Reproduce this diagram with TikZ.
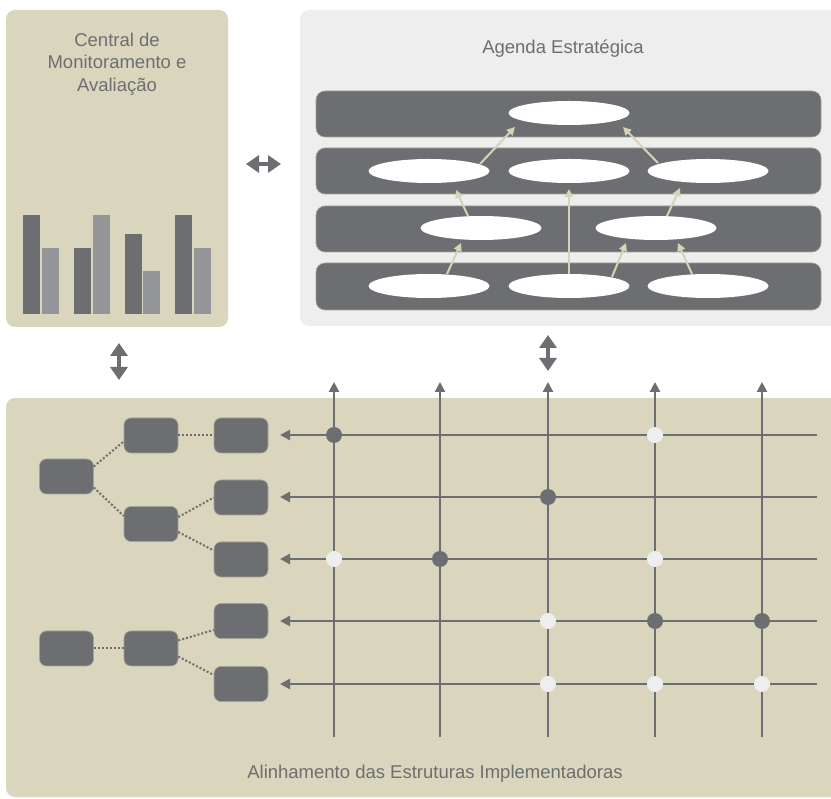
\documentclass[tikz,border=0pt]{standalone}
\usepackage{fontspec}
\setmainfont{Liberation Sans}
\usetikzlibrary{shapes.geometric,arrows.meta,calc}
\definecolor{beige}{HTML}{D9D6BD}
\definecolor{dgray}{HTML}{6D6E71}
\definecolor{lbar}{HTML}{939598}
\definecolor{pgray}{HTML}{EEEEEE}
\definecolor{arrbeige}{HTML}{D6D3B9}
\definecolor{edge}{HTML}{A3A295}
\begin{document}
\begin{tikzpicture}[x=1pt,y=-1pt,
  txt/.style={text=dgray,font=\fontsize{18.5}{22.5}\selectfont,align=center,inner sep=0},
  ell/.style={ellipse,fill=white,minimum width=121pt,minimum height=24pt,inner sep=0},
  rowbar/.style={fill=dgray,draw=edge,line width=0.6pt,rounded corners=9pt},
  uparr/.style={arrbeige,line width=2pt,-{Triangle[length=8pt,width=8pt]}},
  dbl/.style={dgray,line width=4pt,{Triangle[length=13pt,width=17pt]}-{Triangle[length=13pt,width=17pt]}},
  gridln/.style={dgray,line width=2.5pt,-{Triangle[length=10pt,width=10pt]}},
  tbox/.style={rectangle,rounded corners=7pt,fill=dgray,draw=edge,line width=0.6pt,minimum width=54pt,minimum height=35pt,inner sep=0},
  dotln/.style={dgray,line width=2pt,dash pattern=on 2pt off 2pt},
  dkdot/.style={circle,fill=dgray,minimum size=16pt,inner sep=0},
  ltdot/.style={circle,fill=pgray,minimum size=16pt,inner sep=0}
]
\useasboundingbox (0,0) rectangle (831,799);
\clip (0,0) rectangle (831,799);
\fill[white] (0,0) rectangle (831,799);

% panels
\fill[beige,rounded corners=9pt] (6,10) rectangle (228,327);
\fill[pgray,rounded corners=9pt] (300,10) rectangle (860,326);
\fill[beige,rounded corners=9pt] (6,398) rectangle (860,797);

% titles
\node[txt] (central) at (117,64) {Central de\\Monitoramento e\\Avaliação};
\node[txt] (agenda) at (563,48.5) {Agenda Estratégica};
\node[txt] (alin) at (435,774) {Alinhamento das Estruturas Implementadoras};

% bars
\fill[dgray] (23,215) rectangle (40,314);
\fill[lbar] (42,248) rectangle (59,314);
\fill[dgray] (74,248) rectangle (91,314);
\fill[lbar] (93,215) rectangle (110,314);
\fill[dgray] (125,234) rectangle (142,314);
\fill[lbar] (143,271) rectangle (160,314);
\fill[dgray] (175,215) rectangle (192,314);
\fill[lbar] (194,248) rectangle (211,314);

% agenda rows
\filldraw[rowbar] (316,91) rectangle (821,137);
\filldraw[rowbar] (316,148) rectangle (821,194);
\filldraw[rowbar] (316,206) rectangle (821,252);
\filldraw[rowbar] (316,263) rectangle (821,310);

\node[ell] (a1) at (569,113) {};
\node[ell] (b1) at (429,171) {};
\node[ell] (b2) at (569,171) {};
\node[ell] (b3) at (708,171) {};
\node[ell] (c1) at (481,228) {};
\node[ell] (c2) at (656,228) {};
\node[ell] (d1) at (429,286) {};
\node[ell] (d2) at (569,286) {};
\node[ell] (d3) at (708,286) {};

\draw[uparr] ($(b1)+(51,-7)$) -- ($(a1)+(-54,14)$);
\draw[uparr] ($(b3)+(-50,-8)$) -- ($(a1)+(54,14)$);
\draw[uparr] ($(c1)+(-13,-12)$) -- ($(b1)+(27,19)$);
\draw[uparr] (d2.north) -- ($(b2)+(0,18)$);
\draw[uparr] ($(c2)+(11,-12)$) -- ($(b3)+(-28,17)$);
\draw[uparr] ($(d1)+(18,-12)$) -- ($(c1)+(-20,15)$);
\draw[uparr] ($(d2)+(43,-9)$) -- ($(c2)+(-30,15)$);
\draw[uparr] ($(d3)+(-16,-12)$) -- ($(c2)+(22,15)$);

% double arrows
\coordinate (h1) at (246,164); \coordinate (h2) at (281,164);
\coordinate (v1) at (119,343); \coordinate (v2) at (119,380);
\coordinate (w1) at (548,335); \coordinate (w2) at (548,371);
\draw[dbl] (h1) -- (h2);
\draw[dbl] (v1) -- (v2);
\draw[dbl] (w1) -- (w2);

% grid
\foreach \x [count=\i] in {334,440,548,655,762}{
  \coordinate (vb\i) at (\x,737);
  \coordinate (vt\i) at (\x,382);
  \draw[gridln] (vb\i) -- (vt\i);
}
\foreach \y [count=\j] in {435,497,559,621,684}{
  \coordinate (hr\j) at (817,\y);
  \coordinate (hl\j) at (280,\y);
  \draw[gridln] (hr\j) -- (hl\j);
}
\node[dkdot] (p11) at (334,435) {};
\node[ltdot] (p14) at (655,435) {};
\node[dkdot] (p23) at (548,497) {};
\node[ltdot] (p31) at (334,559) {};
\node[dkdot] (p32) at (440,559) {};
\node[ltdot] (p34) at (655,559) {};
\node[ltdot] (p43) at (548,621) {};
\node[dkdot] (p44) at (655,621) {};
\node[dkdot] (p45) at (762,621) {};
\node[ltdot] (p53) at (548,684) {};
\node[ltdot] (p54) at (655,684) {};
\node[ltdot] (p55) at (762,684) {};

% tree
\node[tbox] (A) at (66.5,476.5) {};
\node[tbox] (B) at (151,435.5) {};
\node[tbox] (C) at (151,524) {};
\node[tbox] (D) at (241,435.5) {};
\node[tbox] (E) at (241,497.5) {};
\node[tbox] (F) at (241,559.5) {};
\node[tbox] (G) at (66.5,648.5) {};
\node[tbox] (H) at (151,648.5) {};
\node[tbox] (I) at (241,621) {};
\node[tbox] (J) at (241,684) {};

\draw[dotln] ($(A.east)+(0,-10)$) -- ($(B.west)+(0,6)$);
\draw[dotln] ($(A.east)+(0,11)$) -- ($(C.west)+(0,-8)$);
\draw[dotln] (B.east) -- (D.west);
\draw[dotln] ($(C.east)+(0,-7)$) -- (E.west);
\draw[dotln] ($(C.east)+(0,8)$) -- ($(F.west)+(0,-9)$);
\draw[dotln] (G.east) -- (H.west);
\draw[dotln] ($(H.east)+(0,-8)$) -- ($(I.west)+(0,9)$);
\draw[dotln] ($(H.east)+(0,8)$) -- ($(J.west)+(0,-9)$);
\end{tikzpicture}
\end{document}
